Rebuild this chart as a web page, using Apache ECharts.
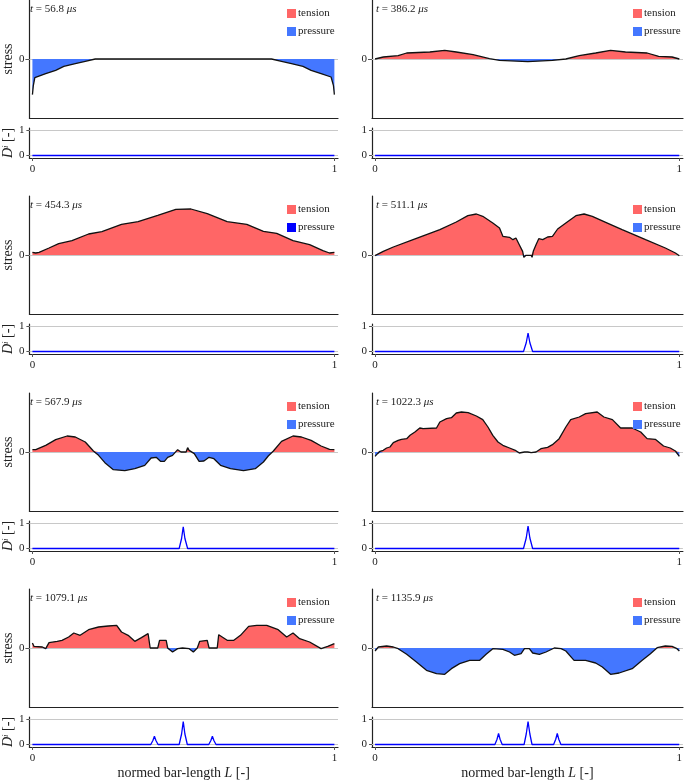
<!DOCTYPE html>
<html><head><meta charset="utf-8">
<script src="https://cdn.jsdelivr.net/npm/echarts@6/dist/echarts.min.js"></script>
<style>html,body{margin:0;padding:0;background:#fff}#c{width:685px;height:781px}</style>
</head><body><div id="c"></div>
<script>
// ---- data (stress in arbitrary units, L normed bar length) ----
const times = ['56.8','386.2','454.3','511.1','567.9','1022.3','1079.1','1135.9'];

const pos1 = [0,0.003,0.008,0.011,0.044,0.077,0.104,0.142,0.175,0.208,0.5,0.792,0.825,0.858,0.896,0.923,0.956,0.989,0.992,0.997,1];
const stress1 = [-107,-80,-56,-54,-44,-34,-22,-14,-7,0,0,0,-7,-14,-22,-34,-44,-54,-56,-80,-107];

const pos2 = [0,0.027,0.076,0.104,0.18,0.229,0.267,0.322,0.376,0.409,0.502,0.583,0.627,0.671,0.725,0.774,0.823,0.894,0.932,0.976,1];
const stress2 = [0,6,10,18,21,26,21,13,1,-4,-8,-4,0,10,18,26,21,18,8,6,0];

const pos3 = [0,0.011,0.022,0.055,0.087,0.131,0.186,0.23,0.295,0.35,0.415,0.475,0.525,0.579,0.645,0.71,0.765,0.809,0.863,0.918,0.962,0.984,1];
const stress3 = [8,6,8,21,34,43,63,70,92,100,119,137,138,124,100,92,71,65,43,31,13,6,8];

const pos4 = [0,0.027,0.06,0.125,0.213,0.267,0.305,0.333,0.354,0.387,0.409,0.42,0.442,0.453,0.463,0.474,0.485,0.489,0.496,0.513,0.516,0.52,0.529,0.538,0.551,0.567,0.583,0.6,0.627,0.66,0.687,0.714,0.758,0.812,0.889,0.954,0.987,1];
const stress4 = [-2,11,24,46,76,99,118,123,116,96,81,56,53,46,51,31,11,-7,-1,-1,-7,11,31,49,46,54,56,78,96,118,123,116,98,76,46,21,6,-2];

const pos5 = [0,0.011,0.044,0.077,0.115,0.142,0.175,0.202,0.219,0.24,0.268,0.306,0.339,0.372,0.393,0.41,0.424,0.437,0.448,0.464,0.481,0.487,0.492,0.501,0.509,0.514,0.519,0.536,0.552,0.568,0.585,0.601,0.623,0.656,0.699,0.738,0.765,0.781,0.798,0.825,0.863,0.891,0.923,0.956,0.984,1];
const stress5 = [7,7,20,37,48,45,30,3,-10,-32,-53,-56,-50,-40,-18,-16,-28,-28,-16,-10,7,13,0,0,0,13,5,-5,-28,-27,-16,-20,-40,-50,-56,-50,-30,-12,3,32,48,45,35,18,8,7];

const pos6 = [0,0.008,0.016,0.027,0.038,0.049,0.06,0.076,0.087,0.104,0.115,0.131,0.147,0.158,0.202,0.213,0.235,0.251,0.267,0.284,0.306,0.333,0.354,0.371,0.387,0.404,0.42,0.442,0.463,0.474,0.491,0.502,0.513,0.529,0.545,0.567,0.583,0.605,0.627,0.643,0.671,0.692,0.73,0.752,0.78,0.807,0.845,0.873,0.894,0.921,0.948,0.97,0.987,1];
const stress6 = [-13,-5,2,5,12,15,28,35,38,40,50,60,72,70,72,90,100,103,117,120,118,108,97,75,50,30,20,12,4,-3,0,0,-2,0,10,14,22,40,75,97,105,115,120,105,97,72,72,60,40,38,18,12,3,-13];

const pos7 = [0,0.005,0.033,0.044,0.055,0.082,0.098,0.12,0.137,0.158,0.186,0.219,0.251,0.279,0.295,0.317,0.339,0.361,0.383,0.39,0.415,0.421,0.443,0.448,0.464,0.481,0.497,0.519,0.533,0.546,0.554,0.579,0.585,0.612,0.617,0.645,0.667,0.689,0.716,0.743,0.776,0.814,0.842,0.863,0.885,0.918,0.956,0.978,1];
const stress7 = [15,5,3,-2,16,20,23,33,45,38,55,63,66,68,48,38,20,31,43,0,0,23,23,0,-12,-2,0,-2,-12,0,20,23,0,0,40,23,23,38,65,68,68,55,33,45,28,18,-2,5,13];

const pos8 = [0,0.011,0.038,0.06,0.076,0.104,0.136,0.169,0.202,0.229,0.251,0.278,0.311,0.344,0.365,0.387,0.42,0.442,0.458,0.48,0.491,0.507,0.518,0.54,0.562,0.589,0.611,0.627,0.654,0.692,0.725,0.747,0.774,0.802,0.845,0.878,0.905,0.927,0.954,0.976,0.992,1];
const stress8 = [-9,3,6,3,-2,-19,-42,-67,-77,-79,-62,-47,-37,-37,-19,-2,-4,-12,-22,-17,-2,-2,-15,-19,-12,0,-2,-9,-37,-37,-45,-57,-79,-75,-62,-37,-17,1,6,5,-2,-9];

const damPos1 = [0,1], dam1 = [0,0];
const damPos2 = [0,1], dam2 = [0,0];
const damPos3 = [0,1], dam3 = [0,0];
const damPos4 = [0,0.488,0.497,0.503,0.509,0.518,1], dam4 = [0,0,0.35,0.74,0.35,0,0];
const damPos5 = [0,0.486,0.494,0.4995,0.505,0.514,1], dam5 = [0,0,0.4,0.87,0.4,0,0];
const damPos6 = [0,0.488,0.497,0.503,0.509,0.518,1], dam6 = [0,0,0.42,0.9,0.42,0,0];
const damPos7 = [0,0.392,0.399,0.404,0.409,0.416,0.486,0.494,0.4995,0.505,0.513,0.584,0.591,0.596,0.601,0.608,1];
const dam7 = [0,0,0.16,0.33,0.16,0,0,0.42,0.92,0.42,0,0,0.16,0.33,0.16,0,0];
const damPos8 = [0,0.394,0.401,0.406,0.411,0.418,0.49,0.497,0.503,0.509,0.516,0.587,0.594,0.599,0.604,0.611,1];
const dam8 = [0,0,0.21,0.44,0.21,0,0,0.42,0.92,0.42,0,0,0.21,0.44,0.21,0,0];

const xTicks = [0,1];
const stressTicks = [0];
const damTicks = [0,1];
const seriesNames = ['tension','pressure'];

// ---- build ----
const posList = [pos1,pos2,pos3,pos4,pos5,pos6,pos7,pos8];
const stressList = [stress1,stress2,stress3,stress4,stress5,stress6,stress7,stress8];
const damPosList = [damPos1,damPos2,damPos3,damPos4,damPos5,damPos6,damPos7,damPos8];
const damList = [dam1,dam2,dam3,dam4,dam5,dam6,dam7,dam8];
const zip = (a,b) => a.map((v,i) => [v,b[i]]);

// split the drawn polyline where it crosses zero so both fills meet the line exactly
function splitSigned(xs, ys) {
  const pts = [];
  for (let i=0; i<xs.length; i++) {
    if (i>0 && ys[i-1]*ys[i] < 0) {
      const t = ys[i-1] / (ys[i-1]-ys[i]);
      pts.push([xs[i-1] + t*(xs[i]-xs[i-1]), 0]);
    }
    pts.push([xs[i], ys[i]]);
  }
  return {
    pos: pts.map(p => [p[0], Math.max(p[1],0)]),
    neg: pts.map(p => [p[0], Math.min(p[1],0)])
  };
}

const FONT = 'Liberation Serif';
const TXT = '#222';
const TENSION = '#ff6666', PRESSURE = '#4477ff';
const legendPressureColor = p => (p === 2 ? '#0000ff' : PRESSURE);
const rowTops = [0,196,393,589];
const colLeft = [27,372];
const colWidth = [311,311];
const axisLineStyle = {color:'#222', width:1.2};
const grayLine = {color:'#c8c8c8', width:1, type:'solid'};

const grid=[], xAxis=[], yAxis=[], series=[], title=[], legend=[];
for (let p=0; p<8; p++) {
  const r = Math.floor(p/2), c = p%2;
  const top = rowTops[r], left = colLeft[c], width = colWidth[c];
  const gs = 2*p, gd = 2*p+1;
  grid.push({left, top, width, height:118});
  grid.push({left, top:top+128, width, height:30});

  xAxis.push({gridIndex:gs, type:'value', min:-0.01, max:1.012,
    axisLine:{show:true, onZero:false, lineStyle:axisLineStyle},
    axisTick:{show:false}, axisLabel:{show:false}, splitLine:{show:false}});
  yAxis.push({gridIndex:gs, type:'value', min:-177, max:177,
    axisLine:{show:true, onZero:false, lineStyle:axisLineStyle},
    axisTick:{show:true, length:4, customValues:stressTicks, lineStyle:{color:'#555'}},
    axisLabel:{customValues:stressTicks, fontFamily:FONT, fontSize:11, color:TXT, margin:5},
    splitLine:{show:false},
    name: c===0 ? 'stress' : '', nameLocation:'middle', nameRotate:90, nameGap:11,
    nameTextStyle:{fontFamily:FONT, fontSize:14, color:TXT}});

  xAxis.push({gridIndex:gd, type:'value', min:-0.01, max:1.012,
    axisLine:{show:true, onZero:false, lineStyle:axisLineStyle},
    axisTick:{show:true, length:3, customValues:xTicks, lineStyle:{color:'#555'}},
    axisLabel:{customValues:xTicks, fontFamily:FONT, fontSize:11, color:TXT, margin:6},
    splitLine:{show:false},
    name: r===3 ? 'normed bar-length {i|L} [-]' : '', nameLocation:'middle', nameGap:19,
    nameTextStyle:{fontFamily:FONT, fontSize:14, color:TXT,
      rich:{i:{fontFamily:FONT, fontSize:14, fontStyle:'italic', color:TXT}}}});
  yAxis.push({gridIndex:gd, type:'value', min:-0.1, max:1.1,
    axisLine:{show:true, onZero:false, lineStyle:axisLineStyle},
    axisTick:{show:true, length:3, customValues:damTicks, lineStyle:{color:'#555'}},
    axisLabel:{customValues:damTicks, fontFamily:FONT, fontSize:11, color:TXT, margin:5},
    splitLine:{show:false},
    name: c===0 ? '{d|D}{s|i} [-]' : '', nameLocation:'middle', nameRotate:90, nameGap:11,
    nameTextStyle:{fontFamily:FONT, fontSize:14, color:TXT,
      rich:{d:{fontFamily:FONT, fontSize:14, fontStyle:'italic', color:TXT},
            s:{fontFamily:FONT, fontSize:9, fontStyle:'italic', color:TXT, verticalAlign:'top'}}}});

  const sp = splitSigned(posList[p], stressList[p]);
  const pLegendName = seriesNames[1] + (p === 2 ? ' ' : '');
  series.push({name: seriesNames[0], type:'line', xAxisIndex:gs, yAxisIndex:gs, z:2,
    data: sp.pos, symbol:'none', showSymbol:false, color:TENSION,
    lineStyle:{width:0, opacity:0}, areaStyle:{color:TENSION, opacity:1},
    markLine:{silent:true, symbol:'none', z:1, label:{show:false}, lineStyle:grayLine,
      data:[{yAxis:0}], animation:false}});
  series.push({name: pLegendName, type:'line', xAxisIndex:gs, yAxisIndex:gs, z:2,
    data: sp.neg, symbol:'none', showSymbol:false, color: legendPressureColor(p),
    lineStyle:{width:0, opacity:0}, areaStyle:{color:PRESSURE, opacity:1}});
  series.push({type:'line', xAxisIndex:gs, yAxisIndex:gs, z:3,
    data: zip(posList[p], stressList[p]), symbol:'none', showSymbol:false,
    lineStyle:{color:'#111', width:1.3}});
  series.push({type:'line', xAxisIndex:gd, yAxisIndex:gd, z:3,
    data: zip(damPosList[p], damList[p]), symbol:'none', showSymbol:false,
    lineStyle:{color:'#0000ff', width:1.3},
    markLine:{silent:true, symbol:'none', z:1, label:{show:false}, lineStyle:grayLine,
      data:[{yAxis:0},{yAxis:1}], animation:false}});

  title.push({left: c===0 ? 30 : 376, top: top+4, padding:0,
    text: '{i|t} = ' + times[p] + ' {i|μs}',
    textStyle:{fontFamily:FONT, fontSize:11, fontWeight:'normal', color:TXT,
      rich:{i:{fontFamily:FONT, fontSize:11, fontStyle:'italic', color:TXT}}}});
  legend.push({left: c===0 ? 287 : 633, top: top+8, padding:0, orient:'vertical', icon:'rect',
    itemWidth:9, itemHeight:9, itemGap:7, selectedMode:false,
    textStyle:{fontFamily:FONT, fontSize:11, color:TXT, padding:[0,0,0,-3]},
    data:[{name:seriesNames[0], itemStyle:{color:TENSION}},
          {name:pLegendName, itemStyle:{color:legendPressureColor(p)}}]});
}

const chart = echarts.init(document.getElementById('c'), null, {renderer:'canvas'});
chart.setOption({
  animation:false,
  backgroundColor:'#fff',
  title, legend, grid, xAxis, yAxis, series
});
</script>
</body></html>
